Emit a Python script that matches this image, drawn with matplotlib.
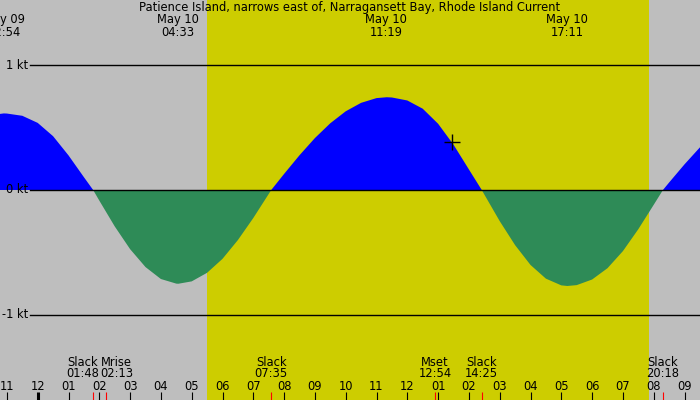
import numpy as np
import matplotlib
matplotlib.use("Agg")
import matplotlib.pyplot as plt

# ---- values (hours after May 10 00:00, knots) ----
curve_hours = [-1.224, -1.1, -1.0, -0.5, 0.0, 0.5, 1.0, 1.5, 1.8,
               2.0, 2.5, 3.0, 3.5, 4.0, 4.5, 4.565,
               5.0, 5.5, 6.0, 6.5, 7.0, 7.5, 7.583,
               8.0, 8.5, 9.0, 9.5, 10.0, 10.5, 11.0, 11.331,
               11.5, 12.0, 12.5, 13.0, 13.5, 14.0, 14.417,
               14.5, 15.0, 15.5, 16.0, 16.5, 17.0, 17.195,
               17.5, 18.0, 18.5, 19.0, 19.5, 20.0, 20.3,
               20.5, 21.0, 21.503]
curve_knots = [0.611, 0.615, 0.614, 0.596, 0.539, 0.432, 0.278, 0.103, 0.0,
               -0.085, -0.292, -0.475, -0.619, -0.715, -0.752, -0.753,
               -0.734, -0.665, -0.553, -0.402, -0.225, -0.032, 0.0,
               0.129, 0.279, 0.417, 0.536, 0.632, 0.700, 0.738, 0.745,
               0.743, 0.719, 0.653, 0.532, 0.364, 0.165, 0.0,
               -0.036, -0.250, -0.443, -0.602, -0.712, -0.766, -0.771,
               -0.764, -0.719, -0.628, -0.491, -0.315, -0.119, 0.0,
               0.060, 0.206, 0.343]

title = "Patience Island, narrows east of, Narragansett Bay, Rhode Island Current"

peak_dates = ["May 09", "May 10", "May 10", "May 10"]
peak_times = ["22:54", "04:33", "11:19", "17:11"]

event_names = ["Slack", "Mrise", "Slack", "Mset", "Slack", "Slack"]
event_times = ["01:48", "02:13", "07:35", "12:54", "14:25", "20:18"]

hour_ticks = list(range(-1, 22))
hour_labels = ["11", "12", "01", "02", "03", "04", "05", "06", "07", "08", "09", "10",
               "11", "12", "01", "02", "03", "04", "05", "06", "07", "08", "09"]

sunrise, sunset = "05:30", "19:51"
now_hour, now_knots = 13.46, 0.383
ref_levels = [1, 0, -1]


def to_hours(s, date="May 10"):
    h, m = s.split(":")
    day = int(date.split()[1]) - 10
    return 24 * day + int(h) + int(m) / 60.0


GREY = "#bebebe"
YELLOW = "#cdcd00"
BLUE = "#0000ff"
GREEN = "#2e8b57"
FS = 8.3

W, H = 700, 400
X0, X1 = -1.224, 21.503
fig = plt.figure(figsize=(W / 100, H / 100), dpi=100, facecolor=GREY)
ax = fig.add_axes([0, 0, 1, 1])
ax.set_facecolor(GREY)
ax.set_xlim(X0, X1)
ax.set_ylim(-1.6867, 1.526)
ax.axis("off")


def yf(py):
    # pixel row from the top -> axes fraction
    return 1 - py / H


px_per_hour = W / (X1 - X0)

ax.axvspan(to_hours(sunrise), to_hours(sunset), color=YELLOW, lw=0)

t = np.array(curve_hours)
v = np.array(curve_knots)
ax.fill_between(t, v, 0, where=v >= 0, interpolate=True, color=BLUE, lw=0)
ax.fill_between(t, v, 0, where=v <= 0, interpolate=True, color=GREEN, lw=0)

xt = ax.get_xaxis_transform()
yt = ax.get_yaxis_transform()

for lv in ref_levels:
    ax.plot([30 / W, 1], [lv, lv], transform=yt, color="black", lw=1.0)
    ax.annotate(f"{lv} kt", xy=(28.5 / W, lv), xycoords=yt, xytext=(0, -3.3),
                textcoords="offset pixels", ha="right", va="baseline", fontsize=FS)

ax.plot([now_hour], [now_knots], marker="+", color="black", ms=11, mew=1.0)

ax.text(0.5, yf(11.5), title, transform=ax.transAxes, ha="center", va="baseline",
        fontsize=FS)
# max flood / max ebb times (va=baseline pins the last line)
for d, tm in zip(peak_dates, peak_times):
    h = to_hours(tm, d)
    ax.text(h, yf(35.7), f"{d}\n{tm}", transform=xt, ha="center", va="baseline",
            multialignment="center", linespacing=0.965, fontsize=FS)

# hour ticks along the bottom, midnight drawn thick
for h, lab in zip(hour_ticks, hour_labels):
    ax.text(h, yf(389.7), lab, transform=xt, ha="center", va="baseline", fontsize=FS)
    ax.plot([h, h], [yf(392), 0], transform=xt, color="black",
            lw=2.2 if h == 0 else 0.8, solid_capstyle="butt")

# events: red ticks + labels, pushed apart when they would overlap
ev_h = [to_hours(s) for s in event_times]
lab_x = [h * px_per_hour for h in ev_h]
min_gap = 34
for i in range(1, len(lab_x)):
    gap = lab_x[i] - lab_x[i - 1]
    if gap < min_gap:
        push = (min_gap - gap) / 2
        lab_x[i - 1] -= push
        lab_x[i] += push
for h, lx, name, tm in zip(ev_h, lab_x, event_names, event_times):
    ax.plot([h, h], [yf(392), 0], transform=xt, color="red", lw=0.8,
            solid_capstyle="butt")
    ax.text(lx / px_per_hour, yf(377.3), f"{name}\n{tm}", transform=xt,
            ha="center", va="baseline", multialignment="center",
            linespacing=0.875, fontsize=FS)

fig.savefig("out.png", dpi=100, facecolor=GREY)
